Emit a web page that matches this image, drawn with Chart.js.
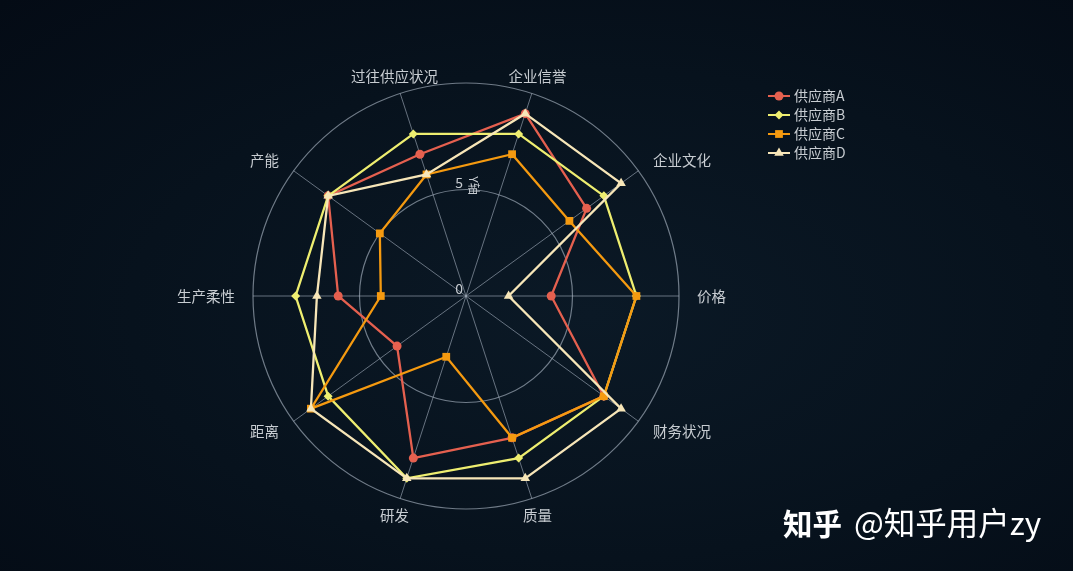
<!DOCTYPE html>
<html>
<head>
<meta charset="utf-8">
<script src="https://cdn.jsdelivr.net/npm/chart.js@4"></script>
<style>
  html, body { margin: 0; padding: 0; }
  body {
    width: 1073px; height: 571px; overflow: hidden; position: relative;
    background: radial-gradient(ellipse at 55% 55%, #0b1926 0%, #07121d 55%, #040b15 100%);
    font-family: "Noto Sans CJK SC", "Noto Sans", sans-serif;
  }
  #wrap { position: absolute; left: 0; top: 0; width: 1073px; height: 571px; }
  #zh {
    position: absolute; left: 783px; top: 498px; color: #fff;
    font-size: 31.5px; white-space: nowrap;
  }
  #zh b { font-weight: 700; font-size: 29.5px; margin-right: 12px; }
</style>
</head>
<body>
<div id="wrap"><canvas id="radar"></canvas></div>
<div id="zh"><b>知乎</b>@知乎用户zy</div>
<script>
// indicators, clockwise from 企业信誉
const indicators = ['企业信誉', '企业文化', '价格', '财务状况', '质量', '研发', '距离', '生产柔性', '产能', '过往供应状况'];
const supplierNames = ['供应商A', '供应商B', '供应商C', '供应商D'];
const supplierA = [9, 7, 4, 8, 7, 8, 4, 6, 8, 7];
const supplierB = [8, 8, 8, 8, 8, 9, 8, 8, 8, 8];
const supplierC = [7, 6, 8, 8, 7, 3, 9, 4, 5, 6];
const supplierD = [9, 9, 2, 9, 9, 9, 9, 7, 8, 6];
const tickLabels = ['0', '5'];
const tickValues = [0, 5];

const colors = ['#e5604f', '#eeee70', '#f59a10', '#f7e6b8'];
const markers = ['circle', 'rectRot', 'rect', 'triangle'];
const markerSizes = [4.5, 4.5, 5.5, 5.5];
const labelColor = '#c8cdd2';
const cjk = '"Noto Sans CJK SC", "Noto Sans", sans-serif';

//Plugin for the labels, ticks and legend drawn in the echarts way
const decorPlugin = {
    id: 'decor',
    afterDraw(chart) {
        const ctx = chart.ctx;
        const scale = chart.scales.r;
        ctx.save();

        // indicator names
        ctx.font = '14.5px ' + cjk;
        ctx.fillStyle = labelColor;
        ctx.textBaseline = 'middle';
        indicators.forEach((name, i) => {
            let p = scale.getPointPosition(i, scale.drawingArea + 18);
            let dx = p.x - scale.xCenter;
            ctx.textAlign = Math.abs(dx) < 80 ? 'center' : (dx > 0 ? 'left' : 'right');
            ctx.fillText(name, p.x, p.y);
        });

        // radius ticks
        ctx.font = '14px ' + cjk;
        ctx.textAlign = 'right';
        tickValues.forEach((v, i) => {
            let r = scale.getDistanceFromCenterForValue(v);
            ctx.fillText(tickLabels[i], scale.xCenter - 3, scale.yCenter - r - 7);
        });

        // axis name
        ctx.save();
        ctx.translate(scale.xCenter + 8, scale.yCenter - scale.getDistanceFromCenterForValue(5) - 4);
        ctx.rotate(Math.PI / 2);
        ctx.font = '12px ' + cjk;
        ctx.textAlign = 'center';
        ctx.fillText('Y轴', 0, 0);
        ctx.restore();

        // legend
        ctx.font = '14px ' + cjk;
        ctx.textAlign = 'left';
        supplierNames.forEach((name, i) => {
            let y = 96 + i * 19;
            ctx.strokeStyle = colors[i];
            ctx.lineWidth = 2;
            ctx.beginPath();
            ctx.moveTo(768, y);
            ctx.lineTo(790, y);
            ctx.stroke();
            ctx.fillStyle = colors[i];
            Chart.helpers.drawPoint(ctx, { pointStyle: markers[i], radius: markerSizes[i], borderWidth: 0 }, 779, y);
            ctx.fillStyle = labelColor;
            ctx.fillText(name, 794, y);
        });
        ctx.restore();
    }
};

const seriesValues = [supplierA, supplierB, supplierC, supplierD];
const datasets = seriesValues.map((vals, i) => ({
    label: supplierNames[i],
    data: vals,
    borderColor: colors[i],
    backgroundColor: colors[i],
    borderWidth: 2.3,
    fill: false,
    pointStyle: markers[i],
    pointRadius: markerSizes[i],
    pointBorderWidth: 0,
    pointBackgroundColor: colors[i],
    order: 3 - i
}));

new Chart(document.getElementById('radar'), {
    type: 'radar',
    data: { labels: indicators, datasets: datasets },
    options: {
        responsive: true,
        maintainAspectRatio: false,
        animation: false,
        layout: { padding: { left: 253, right: 393, top: 83, bottom: 62 } },
        plugins: { legend: { display: false }, tooltip: { enabled: false } },
        elements: { line: { tension: 0 } },
        scales: {
            r: {
                min: 0,
                max: 10,
                startAngle: 18,
                ticks: { display: false, stepSize: 5 },
                pointLabels: { display: false },
                grid: { circular: true, color: 'rgba(180,192,205,0.6)', lineWidth: 1.2 },
                angleLines: { color: 'rgba(180,192,205,0.55)', lineWidth: 1 }
            }
        }
    },
    plugins: [decorPlugin]
});
</script>
</body>
</html>
